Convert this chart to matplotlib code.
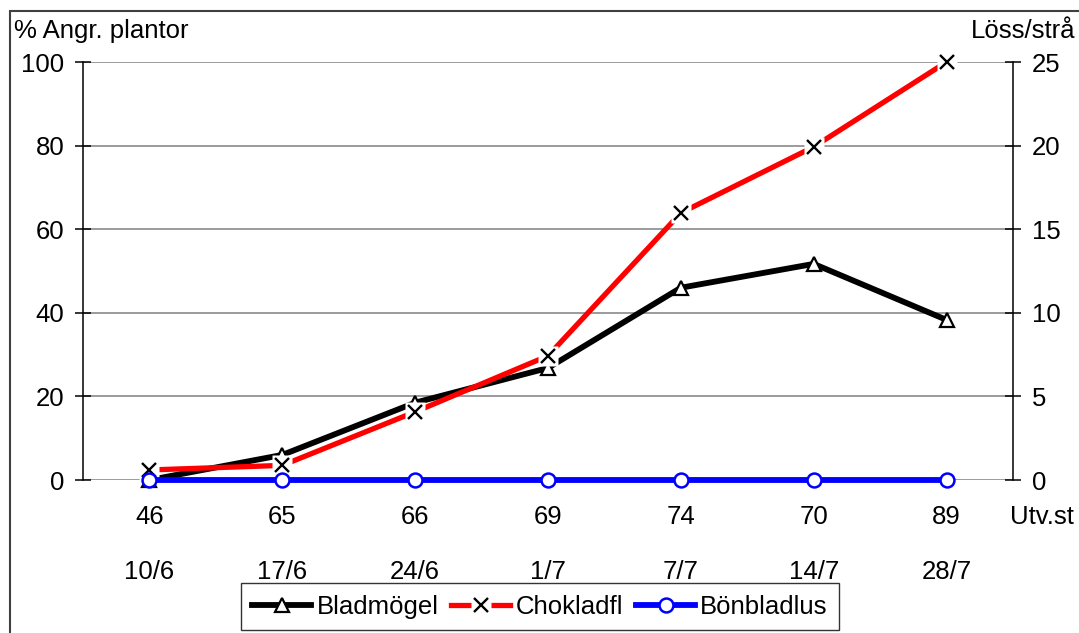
import matplotlib
matplotlib.use("Agg")
import matplotlib.pyplot as plt
from matplotlib.patches import Rectangle
from matplotlib.legend_handler import HandlerTuple

plt.rcParams['font.family'] = ['Liberation Sans', 'DejaVu Sans']

# growth stages and sampling dates
stages = ['46', '65', '66', '69', '74', '70', '89']
dates = ['10/6', '17/6', '24/6', '1/7', '7/7', '14/7', '28/7']

# % attacked plants
bladmogel = [0, 6, 18.5, 26.8, 46, 51.7, 38.3]
chokladfl = [2.4, 3.5, 16.3, 29.7, 63.9, 79.7, 100]
# aphids per stem (right axis)
bonbladlus = [0, 0, 0, 0, 0, 0, 0]

x = list(range(len(stages)))
fs = 18.5

fig = plt.figure(figsize=(10.79, 6.33), dpi=100)
ax = fig.add_axes([83 / 1079, 1 - 480 / 633, 930 / 1079, 418 / 633])
ax2 = ax.twinx()

ax.set_xlim(-0.5, len(stages) - 0.5)
ax.set_ylim(0, 100)
ax2.set_ylim(0, 25)
ax.set_yticks([0, 20, 40, 60, 80, 100])
ax2.set_yticks([0, 5, 10, 15, 20, 25])

ax.grid(axis='y', color='#808080', linewidth=1.1)
ax.set_axisbelow(True)
for a in (ax, ax2):
    for s in ('top', 'bottom'):
        a.spines[s].set_visible(False)
ax.spines['right'].set_visible(False)
ax2.spines['left'].set_visible(False)
ax.spines['left'].set_linewidth(1.1)
ax2.spines['right'].set_linewidth(1.1)
ax.tick_params(axis='y', direction='inout', length=11, width=1.1,
               labelsize=fs, pad=8)
ax2.tick_params(axis='y', direction='inout', length=11, width=1.1,
                labelsize=fs, pad=8)
ax.set_xticks(x)
ax.set_xticklabels([])
ax.tick_params(axis='x', length=0)
for xi, st, d in zip(x, stages, dates):
    ax.text(xi, -0.0885, st, transform=ax.get_xaxis_transform(),
            ha='center', va='center', fontsize=fs)
    ax.text(xi, -0.22, d, transform=ax.get_xaxis_transform(),
            ha='center', va='center', fontsize=fs)
ax.text(1.031, -0.0885, 'Utv.st', transform=ax.transAxes,
        ha='center', va='center', fontsize=fs)

# series
l1, = ax.plot(x, bladmogel, color='black', lw=4.2, marker='^', ms=10,
              mfc='white', mec='black', mew=1.6, zorder=3, clip_on=False)
l2, = ax.plot(x, chokladfl, color='red', lw=3.8, zorder=4, clip_on=False)
halo, = ax.plot(x, chokladfl, ls='none', marker='s', ms=14,
                mfc='white', mec='none', zorder=5, clip_on=False)
xm, = ax.plot(x, chokladfl, ls='none', marker='x', ms=10, mec='black',
              mew=1.7, zorder=6, clip_on=False)
l3, = ax2.plot(x, bonbladlus, color='#0000ff', lw=4.2, marker='o', ms=10,
               mfc='white', mec='#0000ff', mew=1.8, zorder=3, clip_on=False)

fig.text(14 / 1079, 1 - 31 / 633, '% Angr. plantor', ha='left',
         va='center', fontsize=fs)
fig.text(971 / 1079, 1 - 31 / 633, 'Löss/strå', ha='left',
         va='center', fontsize=fs)

# outer frame of the chart area
fig.patches.append(Rectangle((10 / 1079, -0.5), 2, 0.5 + 1 - 11 / 633,
                             transform=fig.transFigure, fill=False,
                             edgecolor='#404040', lw=1.5))

leg = fig.legend([l1, (l2, halo, xm), l3],
                 ['Bladmögel', 'Chokladfl', 'Bönbladlus'],
                 handler_map={tuple: HandlerTuple(ndivide=1, pad=0)},
                 loc='upper center', bbox_to_anchor=(540 / 1079, 1 - 583 / 633),
                 ncol=3, fontsize=fs, frameon=True, fancybox=False,
                 edgecolor='black', handlelength=2.3, handletextpad=0.2,
                 columnspacing=0.5, borderpad=0.45, borderaxespad=0)
leg.get_frame().set_linewidth(1.0)

fig.savefig('out.png', dpi=100)
